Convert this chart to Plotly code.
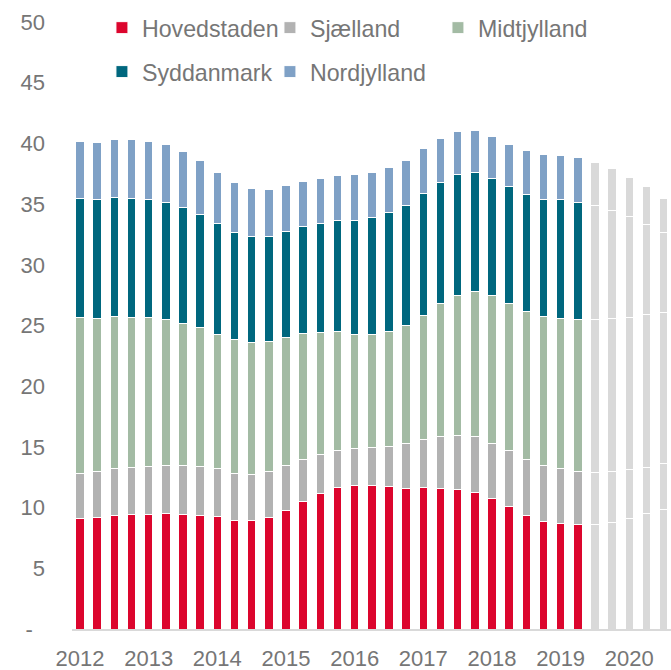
import plotly.graph_objects as go

quarters = [f"{y}K{q}" for y in range(2012, 2021) for q in range(1, 5)][:35]
n_actual = 30
tick_quarters = ["2012K1", "2013K1", "2014K1", "2015K1", "2016K1", "2017K1", "2018K1", "2019K1", "2020K1"]
tick_labels = ["2012", "2013", "2014", "2015", "2016", "2017", "2018", "2019", "2020"]

hovedstaden = [9.09, 9.20, 9.33, 9.42, 9.45, 9.50, 9.45, 9.39, 9.23, 8.95, 8.95, 9.20, 9.80, 10.54, 11.18,
               11.64, 11.78, 11.78, 11.72, 11.61, 11.64, 11.56, 11.51, 11.23, 10.71, 10.05, 9.33, 8.87, 8.67, 8.57,
               8.62, 8.81, 9.09, 9.50, 9.88]
sjaelland = [3.73, 3.81, 3.91, 3.90, 3.95, 3.98, 3.98, 4.01, 3.95, 3.84, 3.79, 3.76, 3.63, 3.46, 3.21,
             3.10, 3.05, 3.16, 3.35, 3.63, 3.93, 4.28, 4.47, 4.61, 4.61, 4.64, 4.67, 4.61, 4.54, 4.42,
             4.26, 4.15, 4.01, 3.84, 3.74]
midtjylland = [12.82, 12.58, 12.52, 12.38, 12.22, 12.00, 11.72, 11.45, 11.12, 11.04, 10.90, 10.74, 10.62, 10.38, 10.07,
               9.78, 9.47, 9.36, 9.42, 9.72, 10.29, 10.96, 11.53, 11.92, 12.14, 12.14, 12.19, 12.25, 12.38, 12.52,
               12.63, 12.60, 12.60, 12.55, 12.43]
syddanmark = [9.84, 9.83, 9.80, 9.80, 9.77, 9.69, 9.61, 9.33, 9.12, 8.87, 8.67, 8.67, 8.68, 8.79, 8.96,
              9.17, 9.39, 9.58, 9.80, 9.91, 10.00, 9.99, 9.91, 9.83, 9.63, 9.58, 9.64, 9.69, 9.75, 9.61,
              9.36, 8.95, 8.30, 7.47, 6.65]
nordjylland = [4.66, 4.67, 4.78, 4.84, 4.78, 4.75, 4.59, 4.42, 4.22, 4.06, 3.96, 3.82, 3.82, 3.73, 3.73,
               3.68, 3.73, 3.71, 3.71, 3.71, 3.68, 3.63, 3.58, 3.51, 3.49, 3.51, 3.57, 3.68, 3.68, 3.68,
               3.54, 3.41, 3.23, 3.05, 2.75]

series_names = ["Hovedstaden", "Sjælland", "Midtjylland", "Syddanmark", "Nordjylland"]
series_values = [hovedstaden, sjaelland, midtjylland, syddanmark, nordjylland]
series_colors = ["#DC052D", "#B2B2B2", "#A3BBA4", "#00677E", "#7FA1C6"]
series_legend = ["legend", "legend", "legend", "legend2", "legend2"]
forecast_color = "#D9D9D9"

FONT = "Liberation Sans, Arial, sans-serif"
TXT = "#767676"
FS = 22
LFS = 23.2

fig = go.Figure()
for name, vals, col, lg in zip(series_names, series_values, series_colors, series_legend):
    fig.add_trace(go.Bar(
        x=quarters[:n_actual], y=vals[:n_actual], name=name, legend=lg,
        marker=dict(color=col, line=dict(color="white", width=1)),
    ))
for name, vals in zip(series_names, series_values):
    fig.add_trace(go.Bar(
        x=quarters[n_actual:], y=vals[n_actual:], name=name + " (prognose)", showlegend=False,
        marker=dict(color=forecast_color, line=dict(color="white", width=1)),
    ))

leg_common = dict(
    orientation="h", xanchor="left", yanchor="middle", bgcolor="rgba(0,0,0,0)",
    font=dict(family=FONT, size=LFS, color=TXT), itemwidth=30,
    entrywidth=123, entrywidthmode="pixels", traceorder="normal",
)

fig.update_layout(
    width=671, height=670,
    margin=dict(l=72, r=0, t=22, b=41),
    paper_bgcolor="white", plot_bgcolor="white",
    barmode="stack", bargap=0.5,
    font=dict(family=FONT, size=FS, color=TXT),
    legend=dict(x=0.050, y=0.990, **leg_common),
    legend2=dict(x=0.050, y=0.9176, **leg_common),
    xaxis=dict(
        type="category", categoryorder="array", categoryarray=quarters,
        range=[-0.466, 34.43],
        tickmode="array", tickvals=tick_quarters, ticktext=tick_labels,
        ticks="", showgrid=False, zeroline=False,
        showline=True, linecolor="#D9D9D9", linewidth=1.5,
        tickfont=dict(family=FONT, size=FS, color=TXT),
        ticklabelstandoff=9,
    ),
    yaxis=dict(
        range=[0, 50], tickmode="array",
        tickvals=[0, 5, 10, 15, 20, 25, 30, 35, 40, 45, 50],
        ticktext=["-\u00a0\u00a0", "5", "10", "15", "20", "25", "30", "35", "40", "45", "50"],
        ticks="", showgrid=False, zeroline=False, showline=False,
        tickfont=dict(family=FONT, size=FS, color=TXT),
        ticklabelstandoff=26,
    ),
    showlegend=True,
)

# remove the browser's default 8px body margin so the figure fills the window exactly
fig.write_html("out.html", config={"displayModeBar": False},
               post_script="document.body.style.margin='0px';")
